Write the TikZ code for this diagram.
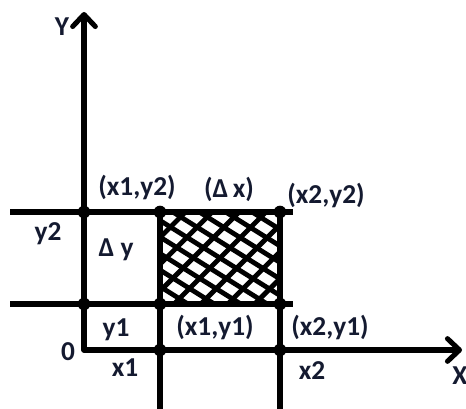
\documentclass[tikz,border=0pt]{standalone}
\usepackage{fontspec}
\setmainfont{Carlito}
\usetikzlibrary{arrows.meta}
\definecolor{gridInk}{HTML}{000000}
\definecolor{labelInk}{HTML}{141A30}
\tikzset{
  axis/.style={
    draw=gridInk,
    line width=3.8pt,
    line join=round,
    {Straight Barb[length=9pt,width=17pt,round]}-{Straight Barb[length=9pt,width=17pt,round]}
  },
  gridline/.style={draw=gridInk, line width=3.8pt},
  hatch/.style={draw=gridInk, line width=3.6pt},
  dot/.style={circle, fill=gridInk, inner sep=0pt, minimum size=9.5pt},
  lbl/.style={text=labelInk, inner sep=0pt, font=\fontsize{20.5}{24}\selectfont\bfseries}
}

\begin{document}
\begin{tikzpicture}[x=0.75pt, y=-0.75pt]
  \useasboundingbox (0,0) rectangle (466,409);

  \coordinate (O) at (84,350);
  \coordinate (ytip) at (84,12);
  \coordinate (xtip) at (462,350);
  \coordinate (y2l) at (10,212);
  \coordinate (y2r) at (293,212);
  \coordinate (y1l) at (10,304);
  \coordinate (y1r) at (293,304);
  \coordinate (x1b) at (160,409);
  \coordinate (x2b) at (280,409);

  % hatched cell
  \begin{scope}
    \clip (160,212) rectangle (280,304);
    \begin{scope}[rotate around={45:(220,258)}]
      \foreach \k in {-7,...,7}
        \draw[hatch] (90,258+\k*19) -- (350,258+\k*19);
    \end{scope}
    \begin{scope}[rotate around={-32:(220,258)}]
      \foreach \k in {-8,...,8}
        \draw[hatch] (90,258+\k*14) -- (350,258+\k*14);
    \end{scope}
  \end{scope}

  \draw[axis] (ytip) -- (O) -- (xtip);
  \draw[gridline] (y2l) -- (y2r);
  \draw[gridline] (y1l) -- (y1r);
  \draw[gridline] (160,212) -- (x1b);
  \draw[gridline] (280,212) -- (x2b);

  \node[dot] (a12) at (84,212) {};
  \node[dot] (b12) at (160,212) {};
  \node[dot] (c22) at (280,212) {};
  \node[dot] (a11) at (84,304) {};
  \node[dot] (b11) at (160,304) {};
  \node[dot] (c21) at (280,304) {};
  \node[dot] (b10) at (160,350) {};
  \node[dot] (c20) at (280,350) {};

  \node[lbl] (ylab) at (62,27) {Y};
  \node[lbl] (xlab) at (460,376) {X};
  \node[lbl] (zero) at (68,352) {0};
  \node[lbl] (lx1) at (125,368) {x1};
  \node[lbl] (lx2) at (312,371) {x2};
  \node[lbl] (ly1) at (116,330) {y1};
  \node[lbl] (ly2) at (48,234) {y2};
  \node[lbl] (lp12) at (137,188) {(x1,y2)};
  \node[lbl] (ldx) at (229,189) {(Δ\,x)};
  \node[lbl] (lp22) at (326,196) {(x2,y2)};
  \node[lbl] (ldy) at (116,250) {Δ y};
  \node[lbl] (lp11) at (215,328) {(x1,y1)};
  \node[lbl] (lp21) at (330,328) {(x2,y1)};
\end{tikzpicture}
\end{document}
